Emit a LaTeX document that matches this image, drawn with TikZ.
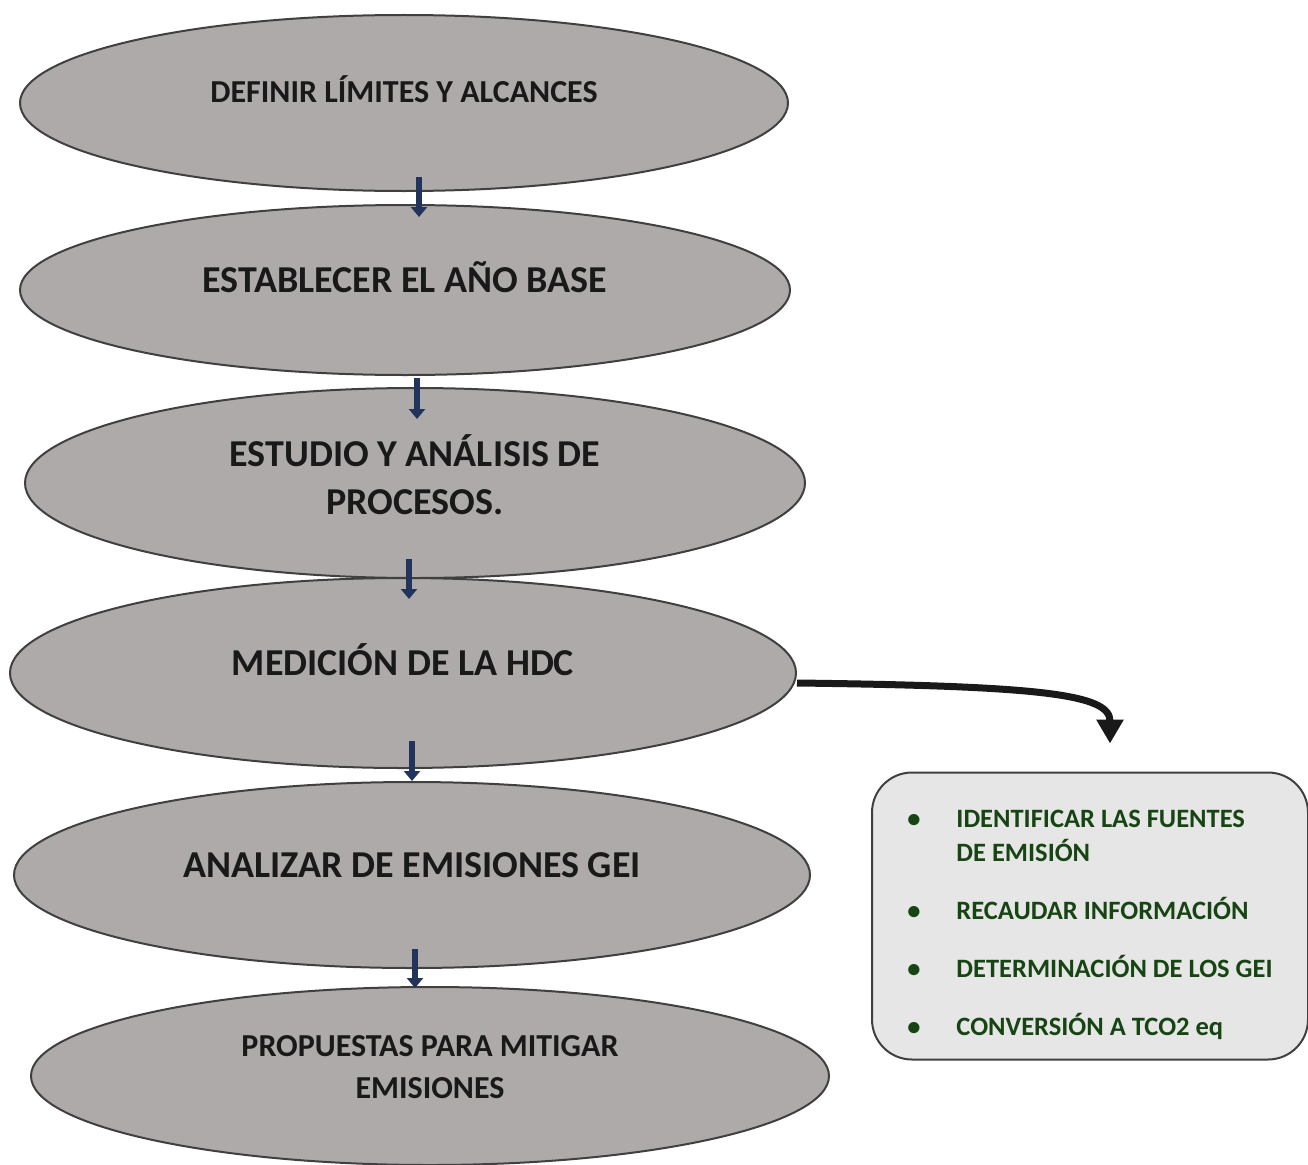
\documentclass[tikz,border=0pt]{standalone}
\usepackage{fontspec}
\setmainfont{Carlito}
\usetikzlibrary{positioning,arrows.meta,shapes.geometric}

\definecolor{elipsegris}{RGB}{174,170,170}
\definecolor{bordegris}{RGB}{64,64,64}
\definecolor{azulpaso}{RGB}{34,52,92}
\definecolor{verdetexto}{RGB}{22,68,18}
\definecolor{cajagris}{RGB}{231,230,230}

% text in the ellipses sits a bit above the centre
\newcommand{\etiq}[1]{\raisebox{32pt}{\begin{tabular}{@{}c@{}}#1\end{tabular}}}
\newcommand{\etiqdos}[2]{\raisebox{0pt}[\height][\dimexpr\depth+#1\relax]{\begin{tabular}{@{}c@{}}#2\end{tabular}}}

\begin{document}
\begin{tikzpicture}[x=1pt,y=-1pt]
    \tikzstyle{etapa}=[ellipse,draw=bordegris,line width=2pt,fill=elipsegris,inner sep=0pt,font=\bfseries,text=black!90]
    \tikzstyle{grande}=[font=\fontsize{38}{48}\selectfont\bfseries]
    \tikzstyle{chica}=[font=\fontsize{32}{42}\selectfont\bfseries]
    \tikzstyle{paso}=[draw=azulpaso,line width=6pt,-{Triangle[width=16pt,length=10pt]}]
    \tikzstyle{flecha}=[draw=black!90,line width=7pt,-{Triangle[width=26pt,length=24pt]}]
    \tikzstyle{lista}=[draw=bordegris,line width=2pt,fill=cajagris,rounded corners=40pt,inner sep=0pt,font=\fontsize{26.5}{34}\selectfont\bfseries,text=verdetexto]

    \useasboundingbox (0,0) rectangle (1308,1164);

    \node[etapa,chica,minimum width=768pt,minimum height=176pt] (limites) at (404,103) {\etiq{DEFINIR LÍMITES Y ALCANCES}};
    \node[etapa,grande,minimum width=770pt,minimum height=170pt] (anobase) at (405,290) {\etiq{ESTABLECER EL AÑO BASE}};
    \node[etapa,grande,minimum width=780pt,minimum height=190pt] (procesos) at (415,483) {\etiqdos{4pt}{ESTUDIO Y ANÁLISIS DE\\PROCESOS.}};
    \node[etapa,grande,minimum width=786pt,minimum height=190pt] (medicion) at (403,673) {\etiq{MEDICIÓN DE LA HDC}};
    \node[etapa,grande,minimum width=796pt,minimum height=186pt] (emisiones) at (412,875) {\etiq{ANALIZAR DE EMISIONES GEI}};
    \node[etapa,chica,minimum width=798pt,minimum height=178pt] (propuestas) at (430,1076) {\etiqdos{14pt}{PROPUESTAS PARA MITIGAR\\EMISIONES}};

    \node[lista,minimum width=436pt,minimum height=287pt] (pasos) at (1090,916) {%
        \raisebox{0pt}[\dimexpr\height+18pt\relax]{\begin{tabular}{@{}p{49pt}@{}l@{}}
        \textbullet & IDENTIFICAR LAS FUENTES\\
                    & DE EMISIÓN\\[24pt]
        \textbullet & RECAUDAR INFORMACIÓN\\[24pt]
        \textbullet & DETERMINACIÓN DE LOS GEI\\[24pt]
        \textbullet & CONVERSIÓN A TCO2 eq
        \end{tabular}}};

    \draw[paso] ([xshift=15pt,yshift=15pt]limites.south) -- ([xshift=14pt,yshift=-13pt]anobase.north);
    \draw[paso] ([xshift=12pt,yshift=-2pt]anobase.south) -- ([xshift=2pt,yshift=-32pt]procesos.north);
    \draw[paso] ([xshift=-6pt,yshift=20pt]procesos.south) -- ([xshift=6pt,yshift=-22pt]medicion.north);
    \draw[paso] ([xshift=9pt,yshift=28pt]medicion.south) -- ([xshift=0pt,yshift=0pt]emisiones.north);
    \draw[paso] ([xshift=3pt,yshift=20pt]emisiones.south) -- ([xshift=-15pt,yshift=-2pt]propuestas.north);

    \draw[flecha] ([yshift=-10pt]medicion.east) .. controls (1040,686) and (1110,694) .. ([xshift=20pt,yshift=28pt]pasos.north);
\end{tikzpicture}
\end{document}
